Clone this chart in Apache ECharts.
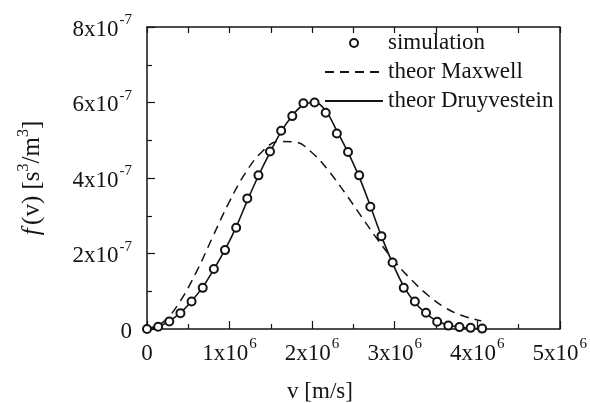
<!DOCTYPE html>
<html>
<head>
<meta charset="utf-8">
<script src="https://cdn.jsdelivr.net/npm/echarts@6/dist/echarts.min.js"></script>
<style>
  html, body { margin: 0; padding: 0; background: #fff; }
  #chart { width: 590px; height: 403px; }
</style>
</head>
<body>
<div id="chart"></div>
<script>
// Electron speed distribution: simulation vs. Maxwell and Druyvestein theory.
// Speeds in units of 1e6 m/s, f(v) in units of 1e-7 s^3/m^3.

const simSpeed = [0, 0.135, 0.27, 0.405, 0.54, 0.675, 0.81, 0.945, 1.08, 1.215,
  1.35, 1.49, 1.625, 1.76, 1.895, 2.03, 2.165, 2.3, 2.435, 2.57, 2.705, 2.84,
  2.975, 3.11, 3.245, 3.38, 3.515, 3.65, 3.785, 3.92, 4.06];
const simF = [0, 0.06, 0.20, 0.42, 0.73, 1.09, 1.59, 2.09, 2.68, 3.46,
  4.07, 4.70, 5.25, 5.64, 5.98, 6.00, 5.73, 5.18, 4.69, 4.07, 3.24, 2.46,
  1.76, 1.09, 0.73, 0.43, 0.19, 0.09, 0.05, 0.03, 0.01];

const druySpeed = [0, 0.135, 0.27, 0.405, 0.54, 0.675, 0.81, 0.945, 1.08, 1.215,
  1.35, 1.49, 1.625, 1.76, 1.895, 2.03, 2.165, 2.3, 2.435, 2.57, 2.705, 2.84,
  2.975, 3.11, 3.245, 3.38, 3.515, 3.65, 3.785, 3.92, 4.06];
const druyF = [0, 0.06, 0.21, 0.43, 0.74, 1.11, 1.58, 2.10, 2.70, 3.40,
  4.06, 4.68, 5.23, 5.65, 5.94, 6.00, 5.78, 5.25, 4.68, 4.03, 3.26, 2.46,
  1.74, 1.13, 0.70, 0.41, 0.21, 0.10, 0.05, 0.02, 0.01];

const maxwellSpeed = [0, 0.2, 0.4, 0.6, 0.8, 1.0, 1.2, 1.4, 1.6, 1.8, 2.0,
  2.2, 2.4, 2.6, 2.8, 3.0, 3.2, 3.4, 3.6, 3.8, 4.0, 4.05];
const maxwellF = [0, 0.19, 0.73, 1.52, 2.46, 3.38, 4.16, 4.71, 4.97, 4.95, 4.67,
  4.19, 3.60, 2.97, 2.35, 1.79, 1.31, 0.90, 0.58, 0.37, 0.24, 0.22];

const xTicks = { min: 0, max: 5, step: 1, power: '6' };
const yTicks = { min: 0, max: 8, step: 2, power: '-7' };

const FONT = '"Liberation Serif", "Times New Roman", serif';
const INK = '#141414';

const pairs = (xs, ys) => xs.map((x, i) => [x, ys[i]]);

const sciRich = {
  n: { fontFamily: FONT, fontSize: 23, color: INK, verticalAlign: 'bottom', padding: [5, 0, 0, 0] },
  s: { fontFamily: FONT, fontSize: 15, color: INK, verticalAlign: 'top', padding: [0, 0, 0, 1] }
};
const sciLabel = power => v => (v === 0 ? '{n|0}' : '{n|' + v + 'x10}{s|' + power + '}');

const chart = echarts.init(document.getElementById('chart'), null, { renderer: 'canvas' });

const hiddenIcon = { color: 'transparent', borderColor: 'transparent', borderWidth: 0 };

chart.setOption({
  animation: false,
  backgroundColor: '#fff',
  grid: { left: 147, right: 27, top: 27, bottom: 74, containLabel: false },
  legend: {
    orient: 'vertical',
    left: 319,
    top: 26,
    itemWidth: 58,
    itemHeight: 8,
    itemGap: 5,
    selectedMode: false,
    textStyle: { fontFamily: FONT, fontSize: 23, color: INK, lineHeight: 24 },
    data: [
      { name: 'simulation' },
      { name: 'theor Maxwell', itemStyle: hiddenIcon },
      { name: 'theor Druyvestein', itemStyle: hiddenIcon }
    ]
  },
  xAxis: [
    {
      type: 'value', position: 'bottom',
      min: xTicks.min, max: xTicks.max, interval: xTicks.step,
      axisLine: { show: true, onZero: false, lineStyle: { color: INK, width: 1.5 } },
      axisTick: { show: true, inside: true, length: 8, lineStyle: { color: INK, width: 1.2 } },
      minorTick: { show: true, splitNumber: 2, length: 5, lineStyle: { color: INK, width: 1.2 } },
      splitLine: { show: false },
      axisLabel: { margin: 8, formatter: sciLabel(xTicks.power), rich: sciRich }
    },
    {
      type: 'value', position: 'top',
      min: xTicks.min, max: xTicks.max, interval: xTicks.step,
      axisLine: { show: true, onZero: false, lineStyle: { color: INK, width: 1.5 } },
      axisTick: { show: true, inside: true, length: 6, lineStyle: { color: INK, width: 1.2 } },
      minorTick: { show: true, splitNumber: 2, length: 6, lineStyle: { color: INK, width: 1.2 } },
      splitLine: { show: false },
      axisLabel: { show: false }
    }
  ],
  yAxis: [
    {
      type: 'value', position: 'left',
      min: yTicks.min, max: yTicks.max, interval: yTicks.step,
      axisLine: { show: true, onZero: false, lineStyle: { color: INK, width: 1.5 } },
      axisTick: { show: true, inside: true, length: 8, lineStyle: { color: INK, width: 1.2 } },
      minorTick: { show: true, splitNumber: 2, length: 5, lineStyle: { color: INK, width: 1.2 } },
      splitLine: { show: false },
      axisLabel: { margin: 15, formatter: sciLabel(yTicks.power), rich: sciRich }
    },
    {
      type: 'value', position: 'right',
      min: yTicks.min, max: yTicks.max, interval: yTicks.step,
      axisLine: { show: true, onZero: false, lineStyle: { color: INK, width: 1.5 } },
      axisTick: { show: false },
      splitLine: { show: false },
      axisLabel: { show: false }
    }
  ],
  graphic: [
    {
      type: 'text', x: 320, y: 392,
      style: {
        text: 'v [m/s]', fontFamily: FONT, fontSize: 23, fill: INK,
        align: 'center', verticalAlign: 'middle'
      }
    },
    {
      type: 'text', x: 30, y: 178, rotation: Math.PI / 2,
      style: {
        text: '{i|f} {n|(v) [s}{s|3}{n|/m}{s|3}{n|]}',
        align: 'center', verticalAlign: 'middle',
        rich: {
          i: { fontFamily: FONT, fontSize: 25, fontStyle: 'italic', fill: INK, verticalAlign: 'bottom', padding: [4, 0, 0, 0] },
          n: { fontFamily: FONT, fontSize: 25, fill: INK, verticalAlign: 'bottom', padding: [4, 0, 0, 0] },
          s: { fontFamily: FONT, fontSize: 16, fill: INK, verticalAlign: 'top' }
        }
      }
    }
  ],
  series: [
    {
      name: 'theor Maxwell', type: 'line', xAxisIndex: 0, yAxisIndex: 0,
      data: pairs(maxwellSpeed, maxwellF), smooth: 0.4, symbol: 'none',
      lineStyle: { color: INK, width: 1.5, type: [9, 6] }, itemStyle: { color: INK },
      z: 2
    },
    {
      name: 'theor Druyvestein', type: 'line', xAxisIndex: 0, yAxisIndex: 0,
      data: pairs(druySpeed, druyF), smooth: 0.4, symbol: 'none',
      lineStyle: { color: INK, width: 1.6 }, itemStyle: { color: INK },
      z: 3
    },
    {
      name: 'simulation', type: 'scatter', xAxisIndex: 0, yAxisIndex: 0,
      data: pairs(simSpeed, simF), symbol: 'emptyCircle', symbolSize: 8,
      itemStyle: { color: INK, borderColor: INK, borderWidth: 2.2, opacity: 1 },
      z: 4
    }
  ]
});
</script>
</body>
</html>
